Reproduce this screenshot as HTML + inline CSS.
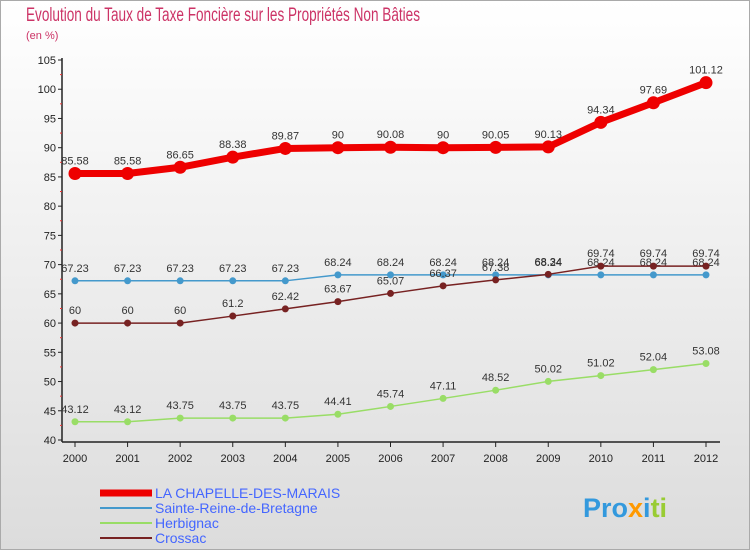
<!DOCTYPE html>
<html><head><meta charset="utf-8"><style>
body{margin:0;width:750px;height:550px;overflow:hidden;font-family:"Liberation Sans",sans-serif}
svg text{font-family:"Liberation Sans",sans-serif}
</style></head><body>
<svg id="chart" width="750" height="550" viewBox="0 0 750 550">
<defs><linearGradient id="bg" x1="0" y1="0" x2="0" y2="1"><stop offset="0" stop-color="#ffffff"/><stop offset="1" stop-color="#dcdcdc"/></linearGradient></defs>
<rect x="0.5" y="0.5" width="749" height="549" fill="url(#bg)" stroke="#aaa"/>
<text x="26" y="21" font-size="19" fill="#cc3366" textLength="394" lengthAdjust="spacingAndGlyphs">Evolution du Taux de Taxe Foncière sur les Propriétés Non Bâties</text>
<text x="26" y="39" font-size="11" fill="#cc3366">(en %)</text>
<g id="axes"></g>
<g id="series"></g>
<g id="legend"></g>
<text x="583" y="517" font-size="27" font-weight="bold"><tspan fill="#3399dd">Pro</tspan><tspan fill="#ff9900">x</tspan><tspan fill="#3399dd">i</tspan><tspan fill="#99cc33">ti</tspan></text>
</svg>
<script>
const years=[2000,2001,2002,2003,2004,2005,2006,2007,2008,2009,2010,2011,2012];
const yTicks=[40,45,50,55,60,65,70,75,80,85,90,95,100,105];
const chapelle=[85.58,85.58,86.65,88.38,89.87,90,90.08,90,90.05,90.13,94.34,97.69,101.12];
const sainteReine=[67.23,67.23,67.23,67.23,67.23,68.24,68.24,68.24,68.24,68.24,68.24,68.24,68.24];
const herbignac=[43.12,43.12,43.75,43.75,43.75,44.41,45.74,47.11,48.52,50.02,51.02,52.04,53.08];
const crossac=[60,60,60,61.2,62.42,63.67,65.07,66.37,67.38,68.34,69.74,69.74,69.74];
const NS="http://www.w3.org/2000/svg";
const X=i=>75+i*(706-75)/(years.length-1);
const Y=v=>440-(v-40)*380/65;
function mk(t,a,p){const e=document.createElementNS(NS,t);for(const k in a)e.setAttribute(k,a[k]);p.appendChild(e);return e;}
const ax=document.getElementById('axes');
let l=mk('line',{x1:62,y1:58,x2:62,y2:442,stroke:'#222','stroke-width':1.5},ax);


l=mk('line',{x1:62,y1:442,x2:720,y2:442,stroke:'#222','stroke-width':1.5},ax);


yTicks.forEach(v=>{const y=Y(v);
 mk('line',{x1:58,y1:y,x2:62,y2:y,stroke:'#222'},ax);
 const t=mk('text',{x:56,y:y+4,'font-size':11,'text-anchor':'end',fill:'#222'},ax);t.textContent=v;
 
 
 if(v<105){mk('line',{x1:60,y1:Y(v+2.5),x2:62,y2:Y(v+2.5),stroke:'#e33'},ax);}
});
years.forEach((yr,i)=>{const x=X(i);
 mk('line',{x1:x,y1:442,x2:x,y2:447,stroke:'#222'},ax);
 const t=mk('text',{x:x,y:462,'font-size':11,'text-anchor':'middle',fill:'#222'},ax);t.textContent=yr;
 
 
});
const se=document.getElementById('series');
function draw(vals,color,w,r,name){
 const g=mk('g',{},se);
 
 
 mk('polyline',{points:vals.map((v,i)=>X(i)+','+Y(v)).join(' '),fill:'none',stroke:color,'stroke-width':w,'stroke-linejoin':'round'},g);
 vals.forEach((v,i)=>{const c=mk('circle',{cx:X(i),cy:Y(v),r:r,fill:color},g);
  
  
  const t=mk('text',{x:X(i),y:Y(v)-9,'font-size':11,'text-anchor':'middle',fill:'#333'},g);t.textContent=v;
  
  
 });
}
draw(herbignac,'#99dd66',1.5,3.5,'herbignac-series');
draw(sainteReine,'#4499cc',1.5,3.5,'sainte-reine-series');
draw(crossac,'#772222',1.5,3.5,'crossac-series');
draw(chapelle,'#ee0000',7,6.5,'chapelle-series');
const lg=document.getElementById('legend');
[['LA CHAPELLE-DES-MARAIS','#ee0000',7,'#4466ff'],['Sainte-Reine-de-Bretagne','#4499cc',2,'#4466ff'],['Herbignac','#99dd66',2,'#4466ff'],['Crossac','#772222',2,'#4466ff']].forEach((d,i)=>{
 const y=493+i*15;
 const g=mk('g',{},lg);
 
 
 mk('line',{x1:100,y1:y,x2:152,y2:y,stroke:d[1],'stroke-width':d[2]},g);
 const t=mk('text',{x:155,y:y+5,'font-size':14,fill:d[3]},g);t.textContent=d[0];
});
</script>
</body></html>
